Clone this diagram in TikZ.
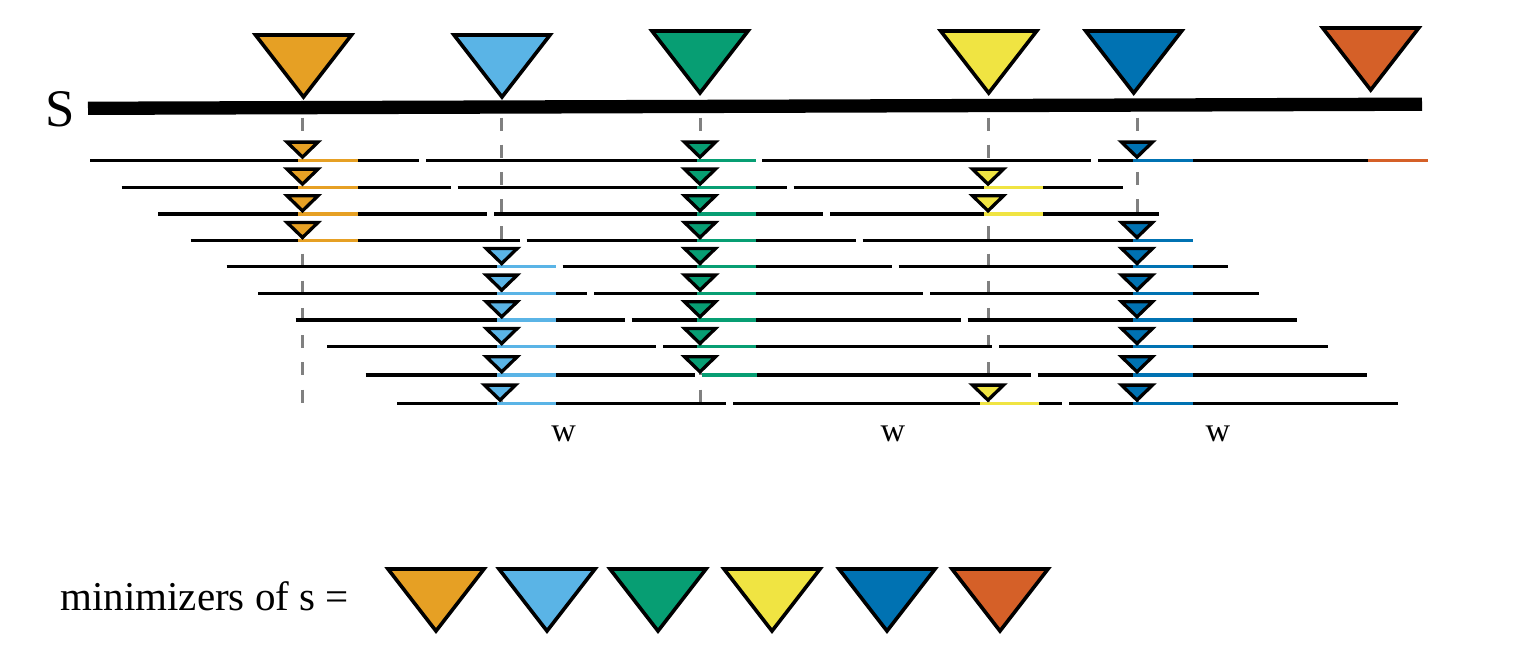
\documentclass[tikz,border=0pt]{standalone}
\usepackage{fontspec}
\setmainfont{Liberation Serif}
\definecolor{cOr}{HTML}{E6A024}
\definecolor{cSky}{HTML}{5AB4E6}
\definecolor{cGr}{HTML}{079E73}
\definecolor{cYe}{HTML}{F0E442}
\definecolor{cBl}{HTML}{0072B2}
\definecolor{cVe}{HTML}{D56028}
\tikzset{
  rowline/.style={line width=1.55pt, draw=black},
  hl/.style={line width=1.55pt},
  guide/.style={line width=1.5pt, draw=gray, dash pattern=on 6.5pt off 7.1pt},
  bigtri/.pic={\draw[line width=1.8pt, line join=miter, pic actions] (0,0) -- (-48,-62) -- (48,-62) -- cycle;},
  smalltri/.pic={\draw[line width=1.65pt, line join=miter, pic actions] (0,0) -- (-15.5,-15) -- (15.5,-15) -- cycle;},
  wlab/.style={anchor=base, inner sep=0pt, font=\fontsize{17}{20}\selectfont},
}
\begin{document}
\begin{tikzpicture}[x=0.5pt,y=-0.5pt]
\useasboundingbox (0,0) rectangle (1523,670);

% guide dashed lines
\foreach \gx in {302.5,501.7,700,988,1137}
  \draw[guide] (\gx,117.5) -- (\gx,403);

% rows
\foreach \y/\s in {160.3/90,187.3/121.7,214/158,240.7/190.7,266.7/226.7,293.3/258,320/295.7,346.7/327,375/365.7,403.3/397}
  \draw[rowline] (\s,\y) -- ++(329,0) ++(7,0) -- ++(329,0) ++(7,0) -- ++(329,0);
\draw[rowline] (1098,160.3) -- (1428,160.3);

% highlights
\foreach \y in {160.3,187.3,214,240.7}
  \draw[hl, cOr] (298,\y) -- (358,\y);
\foreach \y in {266.7,293.3,320,346.7,375,403.3}
  \draw[hl, cSky] (497,\y) -- (556,\y);
\foreach \y in {160.3,187.3,214,240.7,266.7,293.3,320,346.7}
  \draw[hl, cGr] (697,\y) -- (756,\y);
\draw[hl, cGr] (701.7,375) -- (757,375);
\foreach \y in {187.3,214}
  \draw[hl, cYe] (984,\y) -- (1043,\y);
\draw[hl, cYe] (980,403.3) -- (1039,403.3);
\foreach \y in {160.3,240.7,266.7,293.3,320,346.7,375,403.3}
  \draw[hl, cBl] (1133,\y) -- (1193,\y);
\draw[hl, cVe] (1368,160.3) -- (1428,160.3);

% small triangles
\foreach \y in {160.3,187.3,214,240.7}
  \pic[fill=cOr] at (302.5,\y-3.2) {smalltri};
\foreach \y in {266.7,293.3,320,346.7,375}
  \pic[fill=cSky] at (501.7,\y-3.2) {smalltri};
\pic[fill=cSky] at (500,400.1) {smalltri};
\foreach \y in {160.3,187.3,214,240.7,266.7,293.3,320,346.7,375}
  \pic[fill=cGr] at (700,\y-3.2) {smalltri};
\foreach \y in {187.3,214,403.3}
  \pic[fill=cYe] at (988,\y-3.2) {smalltri};
\foreach \y in {160.3,240.7,266.7,293.3,320,346.7,375,403.3}
  \pic[fill=cBl] at (1137,\y-3.2) {smalltri};

% sequence bar
\draw[line width=6.65pt] (88,108.3) -- (1422,104.2);

% big triangles on the sequence
\pic[fill=cOr]  at (303.5,97) {bigtri};
\pic[fill=cSky] at (502,97) {bigtri};
\pic[fill=cGr]  at (700,93) {bigtri};
\pic[fill=cYe]  at (988.7,93) {bigtri};
\pic[fill=cBl]  at (1133.7,93) {bigtri};
\pic[fill=cVe]  at (1370.7,90) {bigtri};

% labels
\node[anchor=base west, inner sep=0pt, font=\fontsize{26.4}{30}\selectfont] (slab) at (45.5,126) {S};
\node[wlab] (w1) at (563.7,441.5) {w};
\node[wlab] (w2) at (893,441.5) {w};
\node[wlab] (w3) at (1218,441.5) {w};
\node[anchor=base west, inner sep=0pt, font=\fontsize{20.5}{24}\selectfont] (minlab) at (60,610.7) {minimizers of s =};

% legend triangles
\pic[fill=cOr]  at (436,631) {bigtri};
\pic[fill=cSky] at (547,631) {bigtri};
\pic[fill=cGr]  at (658,631) {bigtri};
\pic[fill=cYe]  at (772,631) {bigtri};
\pic[fill=cBl]  at (887,631) {bigtri};
\pic[fill=cVe]  at (1000,631) {bigtri};
\end{tikzpicture}
\end{document}
